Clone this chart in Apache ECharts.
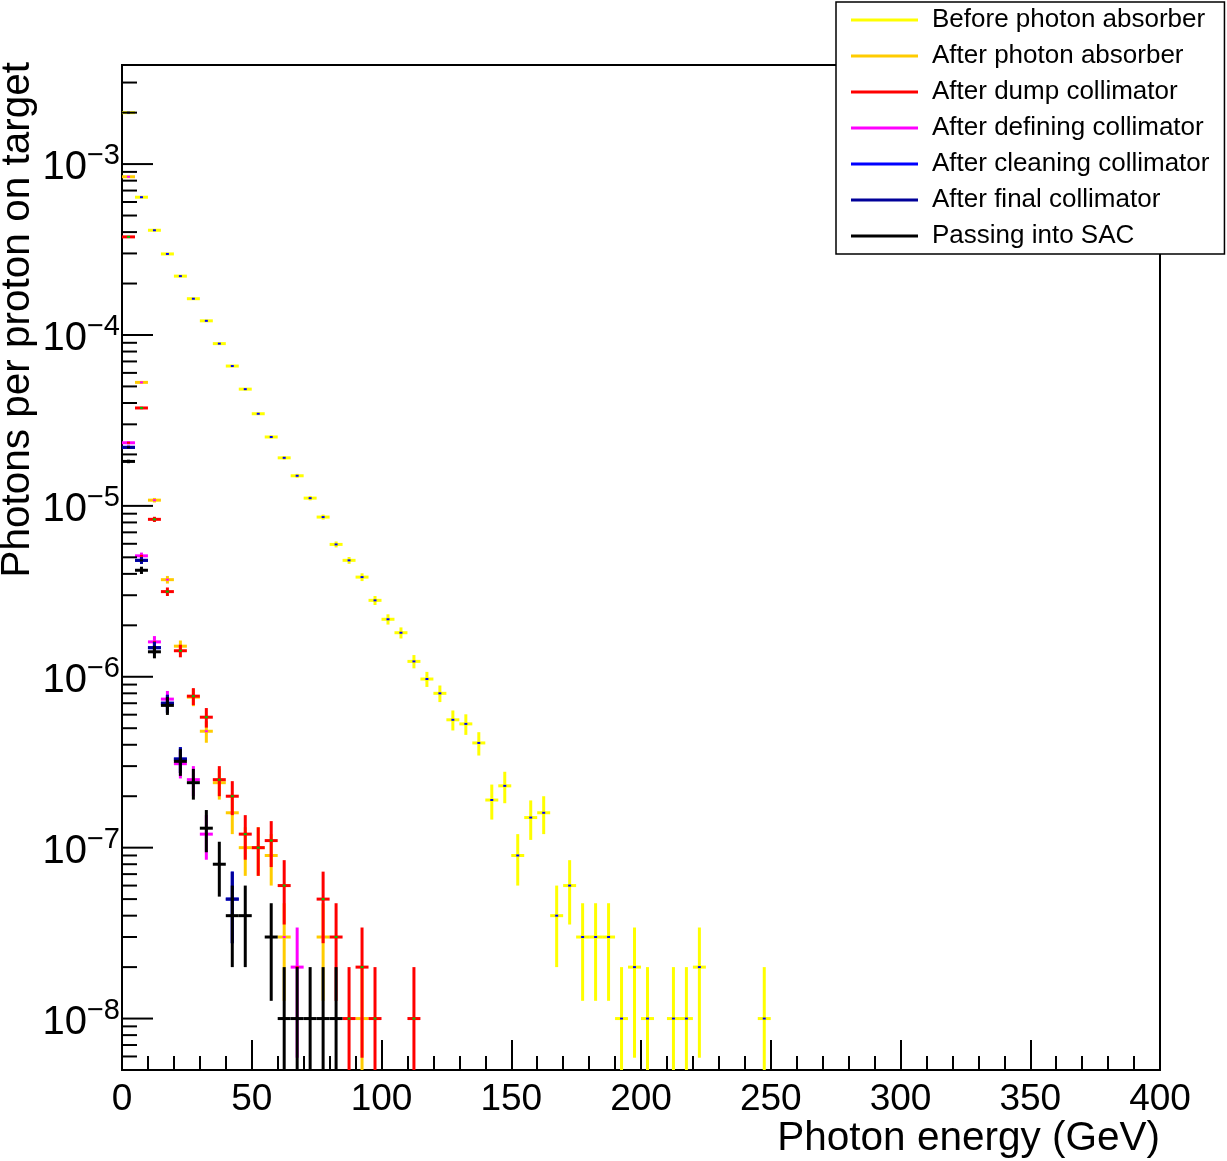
<!DOCTYPE html>
<html>
<head>
<meta charset="utf-8">
<script src="https://cdn.jsdelivr.net/npm/echarts@6.0.0/dist/echarts.min.js"></script>
<style>html,body{margin:0;padding:0;background:#fff}#c{width:1227px;height:1161px}</style>
</head>
<body>
<div id="c"></div>
<script>
// ---------------- data ----------------
const binCenters = [2.5,7.5,12.5,17.5,22.5,27.5,32.5,37.5,42.5,47.5,52.5,57.5,62.5,67.5,72.5,77.5,82.5,87.5,92.5,97.5,
  102.5,107.5,112.5,117.5,122.5,127.5,132.5,137.5,142.5,147.5,152.5,157.5,162.5,167.5,172.5,177.5,182.5,187.5,192.5,197.5,
  202.5,207.5,212.5,217.5,222.5,227.5,232.5,237.5,242.5,247.5];
const binWidth = 5;

const seriesNames = ['Before photon absorber','After photon absorber','After dump collimator','After defining collimator',
  'After cleaning collimator','After final collimator','Passing into SAC'];

const yellowVals = [2.0e-3,6.4e-4,4.1e-4,2.98e-4,2.21e-4,1.63e-4,1.21e-4,8.9e-5,6.58e-5,4.82e-5,3.46e-5,2.53e-5,1.91e-5,1.50e-5,1.11e-5,
  8.6e-6,5.95e-6,4.8e-6,3.83e-6,2.8e-6,2.17e-6,1.81e-6,1.23e-6,9.7e-7,8.0e-7,5.6e-7,5.3e-7,4.1e-7,1.9e-7,2.3e-7,9e-8,1.5e-7,1.6e-7,
  4e-8,6e-8,3e-8,3e-8,3e-8,1e-8,2e-8,1e-8,null,1e-8,1e-8,2e-8,null,null,null,null,1e-8];
const yellowErrs = [4.5e-6,2.5e-6,2.0e-6,1.7e-6,1.5e-6,1.3e-6,1.1e-6,9.4e-7,8.1e-7,6.9e-7,5.9e-7,5.0e-7,4.4e-7,3.9e-7,3.3e-7,
  2.9e-7,2.4e-7,2.2e-7,2.0e-7,1.7e-7,1.5e-7,1.35e-7,1.1e-7,9.8e-8,8.9e-8,7.5e-8,7.3e-8,6.4e-8,4.4e-8,4.8e-8,3.0e-8,3.9e-8,4.0e-8,
  2.0e-8,2.45e-8,1.73e-8,1.73e-8,1.73e-8,1e-8,1.41e-8,1e-8,null,1e-8,1e-8,1.41e-8,null,null,null,null,1e-8];

const orangeVals = [8.43e-4,5.28e-5,1.08e-5,3.70e-6,1.51e-6,7.6e-7,4.8e-7,2.4e-7,1.6e-7,1.0e-7,1.0e-7,9e-8,3e-8,null,null,3e-8,null,null,1e-8];
const orangeErrs = [2.9e-6,7.3e-7,3.3e-7,1.9e-7,1.2e-7,8.7e-8,6.9e-8,4.9e-8,4.0e-8,3.16e-8,3.16e-8,3.0e-8,1.73e-8,null,null,1.73e-8,null,null,1e-8];

const redVals = [3.75e-4,3.74e-5,8.34e-6,3.15e-6,1.42e-6,7.7e-7,5.8e-7,2.5e-7,2.0e-7,1.2e-7,1.0e-7,1.1e-7,6e-8,null,null,5e-8,3e-8,1e-8,2e-8,1e-8,null,null,1e-8];
const redErrs = [1.9e-6,6.1e-7,2.9e-7,1.8e-7,1.2e-7,8.8e-8,7.6e-8,5.0e-8,4.5e-8,3.5e-8,3.16e-8,3.3e-8,2.45e-8,null,null,2.24e-8,1.73e-8,1e-8,1.41e-8,1e-8,null,null,1e-8];

const magentaVals = [2.34e-5,5.1e-6,1.6e-6,7.4e-7,3.1e-7,2.5e-7,1.2e-7,null,null,null,null,null,null,2e-8];
const magentaErrs = [4.8e-7,2.3e-7,1.3e-7,8.6e-8,5.6e-8,5.0e-8,3.5e-8,null,null,null,null,null,null,1.41e-8];

const blueVals = [2.2e-5,4.8e-6,1.48e-6,7.0e-7,3.3e-7,null,null,null,5e-8];
const blueErrs = [4.7e-7,2.2e-7,1.2e-7,8.4e-8,5.7e-8,null,null,null,2.24e-8];

const darkBlueVals = [2.2e-5,4.8e-6,1.48e-6,7.0e-7,3.3e-7,null,null,null,5e-8];
const darkBlueErrs = [4.7e-7,2.2e-7,1.2e-7,8.4e-8,5.7e-8,null,null,null,2.24e-8];

const blackVals = [1.82e-5,4.2e-6,1.4e-6,6.8e-7,3.2e-7,2.4e-7,1.3e-7,8e-8,4e-8,4e-8,null,3e-8,1e-8,1e-8,1e-8,1e-8,1e-8];
const blackErrs = [4.3e-7,2.05e-7,1.18e-7,8.2e-8,5.7e-8,4.9e-8,3.6e-8,2.83e-8,2e-8,2e-8,null,1.73e-8,1e-8,1e-8,1e-8,1e-8,1e-8];

const xTickValues = [0,50,100,150,200,250,300,350,400];
const xTickLabels = ['0','50','100','150','200','250','300','350','400'];
const yDecades = [1e-8,1e-7,1e-6,1e-5,1e-4,1e-3];
const yDecadeExps = ['\u22128','\u22127','\u22126','\u22125','\u22124','\u22123'];

// ---------------- style ----------------
const FONT = 'Liberation Sans, Arial, Helvetica, sans-serif';
const seriesColors = ['#ffff00','#ffcc00','#ff0000','#ff00ff','#0000ff','#000099','#000000'];
const markerColors = ['#0000ff','#ff00ff','#00c000','#ff0000','#000000','#000000','#000000'];
const yMin = 5e-9, yMax = 3.8e-3;

const allVals = [yellowVals, orangeVals, redVals, magentaVals, blueVals, darkBlueVals, blackVals];
const allErrs = [yellowErrs, orangeErrs, redErrs, magentaErrs, blueErrs, darkBlueErrs, blackErrs];

function makeSeries(idx) {
  const vals = allVals[idx], errs = allErrs[idx];
  const data = [];
  vals.forEach((v, i) => { if (v != null) data.push([binCenters[i], v, errs[i]]); });
  const c = seriesColors[idx];
  return {
    type: 'custom', name: seriesNames[idx], coordinateSystem: 'cartesian2d',
    encode: { x: 0, y: 1 }, clip: true, z: 3, silent: true,
    itemStyle: { color: c },
    data: data,
    renderItem: function (params, api) {
      const x = api.value(0), v = api.value(1), e = api.value(2);
      const a = api.coord([x - binWidth / 2, v]);
      const b = api.coord([x + binWidth / 2, v]);
      const lo = api.coord([x, Math.max(v - e, yMin)]);
      const hi = api.coord([x, Math.min(v + e, yMax)]);
      const m = api.coord([x, v]);
      return {
        type: 'group', children: [
          { type: 'line', shape: { x1: a[0], y1: a[1], x2: b[0], y2: b[1] }, style: { stroke: c, lineWidth: 3 } },
          { type: 'line', shape: { x1: lo[0], y1: lo[1], x2: hi[0], y2: hi[1] }, style: { stroke: c, lineWidth: 3 } },
          { type: 'rect', shape: { x: m[0] - 1.5, y: m[1] - 1, width: 3, height: 2 }, style: { fill: markerColors[idx] } }
        ]
      };
    }
  };
}

// y-axis tick positions (log axis: decades + 2..9 subdivisions)
const yTickData = [];
for (let e = -9; e <= -3; e++) {
  for (let mnt = 1; mnt <= 9; mnt++) {
    const v = mnt * Math.pow(10, e);
    if (v >= yMin * 0.999 && v <= yMax) yTickData.push([0, v, mnt === 1 ? 1 : 0]);
  }
}

const chart = echarts.init(document.getElementById('c'), null, { renderer: 'canvas' });
const series = [];
for (let i = 0; i < 7; i++) series.push(makeSeries(i));
series.push({
  type: 'custom', name: '_ytick', coordinateSystem: 'cartesian2d', encode: { x: 0, y: 1 }, silent: true, z: 5,
  data: yTickData,
  renderItem: function (params, api) {
    const p = api.coord([0, api.value(1)]);
    const len = api.value(2) ? 31 : 15;
    return { type: 'line', shape: { x1: p[0], y1: p[1], x2: p[0] + len, y2: p[1] }, style: { stroke: '#000', lineWidth: 2 } };
  }
});
series.push({
  type: 'custom', name: '_ylabel', coordinateSystem: 'cartesian2d', encode: { x: 0, y: 1 }, silent: true, z: 5,
  data: yDecades.map((v, i) => [0, v, i]),
  renderItem: function (params, api) {
    const p = api.coord([0, api.value(1)]);
    const i = api.value(2);
    return {
      type: 'text', x: p[0] - 2, y: p[1] + 4,
      style: {
        text: '10{s|' + yDecadeExps[i] + '}', fill: '#000', fontSize: 40, fontFamily: FONT,
        align: 'right', verticalAlign: 'middle',
        rich: { s: { fontSize: 29, fontFamily: FONT, fill: '#000', verticalAlign: 'top', padding: [0, 0, 24, 0] } }
      }
    };
  }
});

chart.setOption({
  animation: false,
  backgroundColor: '#fff',
  grid: { left: 122, right: 67, top: 65, bottom: 91, show: true, borderColor: '#000', borderWidth: 2, containLabel: false },
  xAxis: {
    type: 'value', min: 0, max: 400, interval: 50,
    axisLine: { show: true, onZero: false, lineStyle: { color: '#000', width: 2 } },
    axisTick: { show: true, inside: true, length: 30, lineStyle: { color: '#000', width: 2 } },
    minorTick: { show: true, splitNumber: 5, length: 14, lineStyle: { color: '#000', width: 2 } },
    splitLine: { show: false }, minorSplitLine: { show: false },
    axisLabel: { show: true, fontSize: 37, fontFamily: FONT, color: '#000', margin: 11,
      formatter: function (v) { const k = xTickValues.indexOf(v); return k >= 0 ? xTickLabels[k] : ''; } }
  },
  yAxis: {
    type: 'log', logBase: 10, min: yMin, max: yMax,
    axisLine: { show: true, onZero: false, lineStyle: { color: '#000', width: 2 } },
    axisTick: { show: false }, axisLabel: { show: false }, splitLine: { show: false }, minorTick: { show: false }
  },
  legend: {
    data: seriesNames, orient: 'vertical', left: 836, top: 2, icon: 'rect', itemWidth: 67, itemHeight: 3, itemGap: 8,
    padding: [4, 15, 4, 15], backgroundColor: '#fff', borderColor: '#000', borderWidth: 1.5, selectedMode: false,
    textStyle: { fontSize: 26, fontFamily: FONT, color: '#000', lineHeight: 28, padding: [0, 0, 0, 9] }
  },
  graphic: [
    { type: 'text', x: 18, y: 62, rotation: Math.PI / 2, z: 10,
      style: { text: 'Photons per proton on target', fill: '#000', fontSize: 40.5, fontFamily: FONT, align: 'right', verticalAlign: 'middle' } },
    { type: 'text', x: 1160, y: 1139, z: 10,
      style: { text: 'Photon energy (GeV)', fill: '#000', fontSize: 40.5, fontFamily: FONT, align: 'right', verticalAlign: 'middle' } }
  ],
  series: series
});
</script>
</body>
</html>
